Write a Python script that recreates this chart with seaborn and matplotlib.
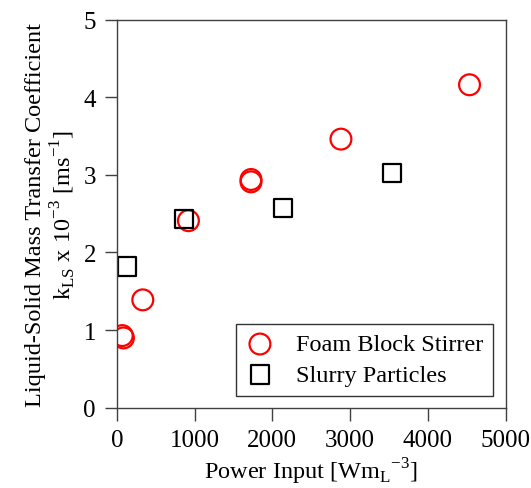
import matplotlib
matplotlib.use("Agg")
import matplotlib.pyplot as plt
import seaborn as sns

# values
foam_power = [70, 85, 334, 921, 1726, 1726, 2883, 4537]
foam_kls = [0.93, 0.90, 1.39, 2.41, 2.94, 2.91, 3.46, 4.16]
slurry_power = [128, 865, 2134, 3543]
slurry_kls = [1.82, 2.43, 2.57, 3.02]
series_names = ["Foam Block Stirrer", "Slurry Particles"]

sns.set_style("ticks")
plt.rcParams["font.family"] = ["Liberation Serif", "DejaVu Serif"]
plt.rcParams["mathtext.fontset"] = "custom"
plt.rcParams["mathtext.rm"] = "Liberation Serif"
plt.rcParams["text.color"] = "black"
plt.rcParams["axes.labelcolor"] = "black"
plt.rcParams["xtick.color"] = "black"
plt.rcParams["ytick.color"] = "black"

fig, ax = plt.subplots(figsize=(5.31, 4.89), dpi=100)
fig.subplots_adjust(left=0.22, right=0.952, top=0.958, bottom=0.164)

# hollow markers: draw with seaborn, then clear the fill
for x, y, name, color, marker, size in [
        (foam_power, foam_kls, series_names[0], "red", "o", 225),
        (slurry_power, slurry_kls, series_names[1], "black", "s", 170)]:
    sns.scatterplot(x=x, y=y, marker=marker, s=size, color=color,
                    linewidth=1.6, label=name, ax=ax)
    pts = ax.collections[-1]
    pts.set_facecolor("none")
    pts.set_edgecolor(color)

ax.set_xlim(0, 5000)
ax.set_ylim(0, 5)
ax.set_xticks(range(0, 5001, 1000))
ax.set_yticks(range(0, 6))
for sp in ax.spines.values():
    sp.set_visible(True)
    sp.set_color("#404040")
    sp.set_linewidth(1.0)
ax.tick_params(direction="out", length=9, width=1.0, color="#404040",
               labelsize=18, pad=6)

ax.set_xlabel("Power Input [Wm$_{\\mathregular{L}}$$^{\\mathregular{-3}}$]", fontsize=17.5)
ax.set_ylabel("Liquid-Solid Mass Transfer Coefficient\n"
              "k$_{\\mathregular{LS}}$ x 10$^{\\mathregular{-3}}$ [ms$^{\\mathregular{-1}}$]",
              fontsize=17.5, linespacing=1.12)

leg = ax.legend(loc="lower right", fontsize=17.5, frameon=True, fancybox=False,
                edgecolor="black", borderaxespad=0.5, handletextpad=0.9,
                handlelength=1.2, labelspacing=0.35, borderpad=0.4)
leg.get_frame().set_linewidth(1.0)

fig.savefig("out.png", dpi=100)
